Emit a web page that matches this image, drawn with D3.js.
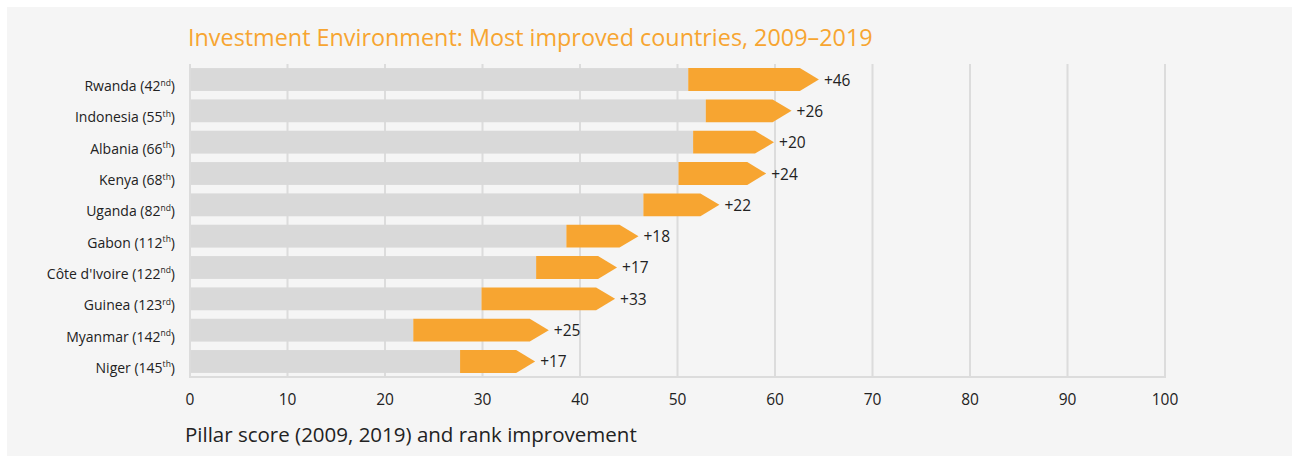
<!DOCTYPE html>
<html>
<head>
<meta charset="utf-8">
<script src="https://cdn.jsdelivr.net/npm/d3@7"></script>
<style>
  html, body { margin: 0; padding: 0; background: #ffffff; }
  svg { display: block; }
  text { font-family: "Open Sans", "Noto Sans", sans-serif; }
</style>
</head>
<body>
<svg id="chart" width="1295" height="457"></svg>
<script>
const countries = ["Rwanda", "Indonesia", "Albania", "Kenya", "Uganda", "Gabon", "Côte d'Ivoire", "Guinea", "Myanmar", "Niger"];
const ranks2019 = [42, 55, 66, 68, 82, 112, 122, 123, 142, 145];
const rankSuffix = ["nd", "th", "th", "th", "nd", "th", "nd", "rd", "nd", "th"];
const score2009 = [51.1, 52.9, 51.6, 50.1, 46.5, 38.6, 35.5, 29.9, 22.9, 27.7];
const score2019 = [64.5, 61.7, 59.9, 59.1, 54.3, 46.0, 43.8, 43.6, 36.8, 35.4];
const rankImprovement = [46, 26, 20, 24, 22, 18, 17, 33, 25, 17];
const xTicks = [0, 10, 20, 30, 40, 50, 60, 70, 80, 90, 100];
const titleText = "Investment Environment: Most improved countries, 2009–2019";
const axisTitleText = "Pillar score (2009, 2019) and rank improvement";

const W = 1295, H = 457;
const orange = "#f7a531";
const barGrey = "#d9d9d9";
const gridGrey = "#dcdcdc";
const panelBg = "#f5f5f5";

const svg = d3.select("#chart");

svg.append("rect").attr("x", 7).attr("y", 7).attr("width", 1285).attr("height", 449).attr("fill", panelBg);

const x = d3.scaleLinear().domain([0, 100]).range([190, 1165]);
const y = d3.scaleBand().domain(countries).range([64, 377]).paddingInner(0.27).paddingOuter(0.13);

// gridlines
svg.append("g").selectAll("line").data(xTicks).join("line")
  .attr("x1", d => x(d)).attr("x2", d => x(d))
  .attr("y1", 64).attr("y2", 377)
  .attr("stroke", gridGrey).attr("stroke-width", 2);

// bottom axis line
svg.append("line").attr("x1", x(0) - 1).attr("x2", x(100) + 1)
  .attr("y1", 377).attr("y2", 377)
  .attr("stroke", gridGrey).attr("stroke-width", 2);

const rows = countries.map((c, i) => ({
  c, rank: ranks2019[i], suf: rankSuffix[i], s0: score2009[i], s1: score2019[i], imp: rankImprovement[i]
}));

// grey bars
svg.append("g").selectAll("rect").data(rows).join("rect")
  .attr("x", x(0) + 1)
  .attr("y", d => y(d.c))
  .attr("width", d => x(d.s0) - x(0) - 1)
  .attr("height", y.bandwidth())
  .attr("fill", barGrey);

// orange arrows
const head = 19;
svg.append("g").selectAll("path").data(rows).join("path")
  .attr("d", d => {
    const x0 = x(d.s0), x1 = x(d.s1), t = y(d.c), b = t + y.bandwidth(), m = t + y.bandwidth() / 2;
    const xb = Math.max(x0, x1 - head);
    return `M${x0},${t}L${xb},${t}L${x1},${m}L${xb},${b}L${x0},${b}Z`;
  })
  .attr("fill", orange);

// value labels
svg.append("g").selectAll("text").data(rows).join("text")
  .attr("x", d => x(d.s1) + 5)
  .attr("y", d => y(d.c) + y.bandwidth() / 2 + 6)
  .attr("font-size", 15.5)
  .attr("fill", "#222")
  .text(d => "+" + d.imp);

// country labels
const lab = svg.append("g").selectAll("text").data(rows).join("text")
  .attr("x", 175)
  .attr("y", d => y(d.c) + y.bandwidth() / 2 + 11.5)
  .attr("text-anchor", "end")
  .attr("font-size", 14)
  .attr("fill", "#222");
lab.append("tspan").text(d => `${d.c} (${d.rank}`);
lab.append("tspan").attr("font-size", 8.5).attr("dy", -5.5).text(d => d.suf);
lab.append("tspan").attr("dy", 5.5).text(")");

// tick labels
svg.append("g").selectAll("text").data(xTicks).join("text")
  .attr("x", d => x(d))
  .attr("y", 405)
  .attr("text-anchor", "middle")
  .attr("font-size", 15.5)
  .attr("fill", "#222")
  .text(d => d);

// title
const title = svg.append("text").attr("x", 188).attr("y", 46)
  .attr("font-size", 22).attr("fill", orange).text(titleText);
const tw = title.node().getComputedTextLength();
title.attr("font-size", 22 * 685 / tw);

// axis title
const at = svg.append("text").attr("x", 185).attr("y", 442)
  .attr("font-size", 20).attr("fill", "#222").text(axisTitleText);
const aw = at.node().getComputedTextLength();
at.attr("font-size", 20 * 452 / aw);
</script>
</body>
</html>
